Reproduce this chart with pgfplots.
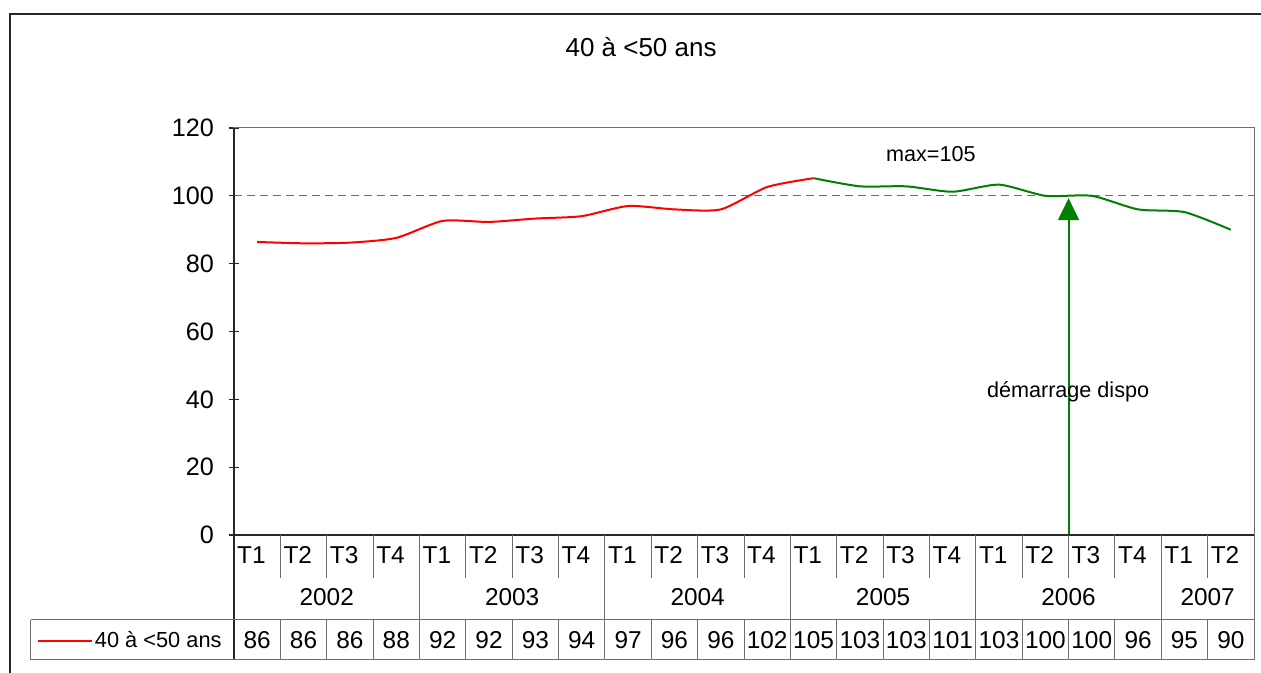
\documentclass[border=0pt]{standalone}
\usepackage{pgfplots}
\pgfplotsset{compat=1.18}
\usepackage{fontspec}
\setmainfont{Liberation Sans}
\usetikzlibrary{arrows.meta}
\definecolor{xlred}{RGB}{255,0,0}
\definecolor{xlgreen}{RGB}{0,128,0}
\definecolor{framec}{RGB}{40,40,40}
\definecolor{gridc}{RGB}{110,110,110}
\begin{document}
\begin{tikzpicture}
% picture = 1261x673 px at 0.5pt/px; plot area lower-left (234,535)px at origin
\useasboundingbox (-117pt,-69pt) rectangle (513.5pt,267.5pt);
\begin{axis}[
  scale only axis, width=510pt, height=203.5pt,
  xmin=-0.5, xmax=21.5, ymin=0, ymax=120,
  ytick={0,20,...,120},
  ytick pos=left,
  xtick=\empty,
  clip=false,
  axis line style={draw=gridc, line width=0.5pt},
  tick align=center,
  major tick length=5pt,
  ytick style={draw=framec, line width=0.6pt},
  tick label style={font=\fontsize{12.6}{14}\selectfont},
  /pgf/number format/assume math mode=true,
  yticklabel style={xshift=-4pt},
]
\draw[gridc, dash pattern=on 4pt off 2.5pt, line width=0.6pt] (axis cs:-0.5,100) -- (axis cs:21.5,100);
\addplot[xlred, line width=1pt, smooth, tension=0.4] coordinates {
 (0,86.4) (1,86) (2,86.2) (3,87.6) (4,92.6) (5,92.3) (6,93.3) (7,94) (8,97) (9,96) (10,96) (11,102.6) (12,105.2)
};
\addplot[xlgreen, line width=1pt, smooth, tension=0.4] coordinates {
 (12,105.2) (13,102.8) (14,102.8) (15,101.2) (16,103.3) (17,100) (18,100) (19,96) (20,95.2) (21,90)
};
\draw[xlgreen, line width=1pt, -{Triangle[width=10.5pt,length=11pt]}] (axis cs:17.5,0) -- (axis cs:17.5,99.3);
\end{axis}
\begin{scope}[x=23.181818pt, y=1.695833pt, xshift=11.590909pt,
  every node/.style={font=\fontsize{12.2}{14}\selectfont, inner sep=0pt}]
  % axis main lines
  \draw[framec, line width=0.9pt] (-0.5,120) -- (-0.5,-36.85);
  \draw[framec, line width=0.9pt] (-0.5,0) -- (21.5,0);
  \draw[gridc, line width=0.5pt] (21.5,0) -- (21.5,-36.85);
  % outer frame
  \draw[framec, line width=0.8pt] (-5.332,-45) -- (-5.332,153.6) -- (22,153.6);
  % table grid
  \foreach \xx in {0.5,1.5,2.5,4.5,5.5,6.5,8.5,9.5,10.5,12.5,13.5,14.5,16.5,17.5,18.5,20.5} {
    \draw[gridc, line width=0.5pt] (\xx,0) -- (\xx,-12.68);
    \draw[gridc, line width=0.5pt] (\xx,-25.06) -- (\xx,-36.85);
  }
  \foreach \xx in {3.5,7.5,11.5,15.5,19.5} {
    \draw[gridc, line width=0.5pt] (\xx,0) -- (\xx,-36.85);
  }
  \draw[gridc, line width=0.5pt] (-4.879,-25.06) -- (21.5,-25.06);
  \draw[gridc, line width=0.5pt] (-4.879,-36.85) -- (21.5,-36.85);
  \draw[gridc, line width=0.5pt] (-4.879,-25.06) -- (-4.879,-36.85);
  % quarter labels
  \foreach \i/\q in {0/T1,1/T2,2/T3,3/T4,4/T1,5/T2,6/T3,7/T4,8/T1,9/T2,10/T3,11/T4,12/T1,13/T2,14/T3,15/T4,16/T1,17/T2,18/T3,19/T4,20/T1,21/T2} {
    \node[anchor=base west] at (\i-0.44,-8.3) {\q};
  }
  % years
  \foreach \xx/\yy in {1.5/2002,5.5/2003,9.5/2004,13.5/2005,17.5/2006,20.5/2007} {
    \node[anchor=base] at (\xx,-20.8) {\yy};
  }
  % data row
  \foreach \i/\v in {0/86,1/86,2/86,3/88,4/92,5/92,6/93,7/94,8/97,9/96,10/96,11/102,12/105,13/103,14/103,15/101,16/103,17/100,18/100,19/96,20/95,21/90} {
    \node[anchor=base] at (\i,-33.6) {\v};
  }
  % legend key
  \draw[xlred, line width=1pt] (-4.728,-31.25) -- (-3.563,-31.25);
  \node[anchor=base east, font=\fontsize{10.9}{13}\selectfont] at (-0.759,-33.3) {40 à <50 ans};
  % title and annotations
  \node[anchor=base, font=\fontsize{13}{15}\selectfont] at (8.28,141.2) {40 à <50 ans};
  \node[anchor=base, font=\fontsize{10.8}{13}\selectfont] at (14.53,110.0) {max=105};
  \node[anchor=base, font=\fontsize{10.8}{13}\selectfont] at (17.49,40.4) {démarrage dispo};
\end{scope}
\end{tikzpicture}
\end{document}
